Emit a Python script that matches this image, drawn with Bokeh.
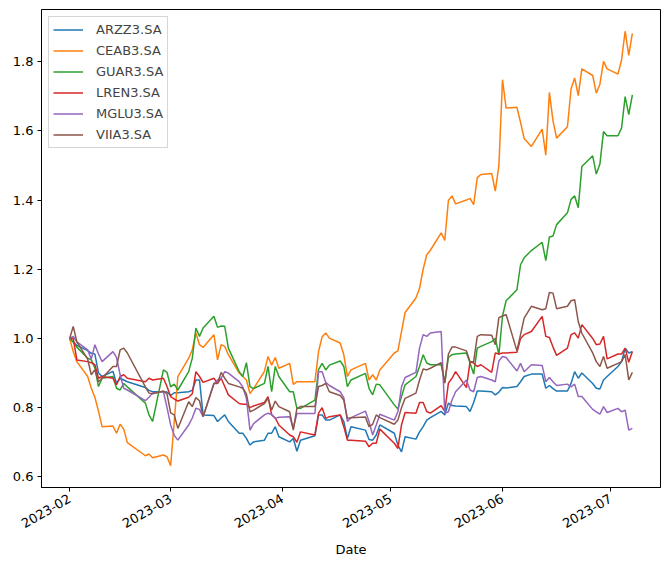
import math
import pandas as pd
from bokeh.plotting import figure
from bokeh.models import ColumnDataSource, FixedTicker, PrintfTickFormatter, DatetimeTickFormatter, Range1d
from bokeh.embed import file_html
from bokeh.resources import INLINE

# B3 trading days, 2023-02-01 .. 2023-07-07
holidays = ["2023-02-20", "2023-02-21", "2023-04-07", "2023-04-21", "2023-05-01", "2023-06-08"]
dates = pd.bdate_range("2023-02-01", "2023-07-07", freq="C", holidays=holidays)

tickers = ["ARZZ3.SA", "CEAB3.SA", "GUAR3.SA", "LREN3.SA", "MGLU3.SA", "VIIA3.SA"]
colors = ["#1f77b4", "#ff7f0e", "#2ca02c", "#d62728", "#9467bd", "#8c564b"]

arzz3 = [1.0, 0.99, 0.98, 0.965, 0.957, 0.955, 0.90, 0.89, 0.905, 0.87, 0.885, 0.88, 0.875, 0.858, 0.85, 0.846, 0.846, 0.845,
         0.835, 0.843, 0.843, 0.846, 0.85, 0.88, 0.88, 0.779, 0.777, 0.76, 0.77, 0.779, 0.76, 0.726, 0.726, 0.711, 0.692, 0.701, 0.706, 0.726, 0.726, 0.745, 0.716,
         0.701, 0.711, 0.674, 0.706, 0.719, 0.779, 0.779, 0.764, 0.764, 0.779, 0.76, 0.711, 0.745, 0.735, 0.708, 0.706, 0.721, 0.75,
         0.726, 0.692, 0.672, 0.716, 0.709, 0.73, 0.745, 0.764, 0.771, 0.789, 0.779, 0.813, 0.806, 0.805, 0.803, 0.789, 0.815, 0.848, 0.848, 0.846, 0.837, 0.845,
         0.858, 0.857, 0.861, 0.875, 0.89, 0.897, 0.897, 0.856, 0.864, 0.855, 0.848, 0.848, 0.87, 0.904, 0.885, 0.9, 0.87, 0.856, 0.854, 0.88, 0.89,
         0.919, 0.933, 0.972, 0.958, 0.962]

ceab3 = [1.0, 0.962, 0.933, 0.89, 0.856, 0.83, 0.79, 0.745, 0.747, 0.726, 0.752, 0.738, 0.699, 0.661, 0.666, 0.655, 0.663, 0.658,
         0.632, 0.76, 0.89, 0.943, 0.967, 1.016, 0.982, 0.974, 1.011, 0.938, 0.982, 0.977, 0.953, 0.9, 0.89, 0.88, 0.841, 0.855, 0.905, 0.948, 0.923, 0.945, 0.914,
         0.928, 0.867, 0.875, 0.875, 0.875, 0.962, 1.005, 1.016, 1.001, 0.987, 0.953, 0.89, 0.909, 0.928, 0.88, 0.895, 0.88, 0.909,
         0.958, 0.964, 1.02, 1.075, 1.117, 1.145, 1.20, 1.242, 1.255, 1.305, 1.283, 1.399, 1.412, 1.389, 1.40, 1.405, 1.387, 1.465, 1.474, 1.477, 1.426, 1.50,
         1.748, 1.666, 1.668, 1.625, 1.578, 1.555, 1.605, 1.53, 1.711, 1.629, 1.579, 1.612, 1.721, 1.753, 1.702, 1.779, 1.76, 1.709, 1.735, 1.801, 1.779,
         1.764, 1.805, 1.888, 1.818, 1.882]

guar3 = [1.0, 0.99, 0.975, 0.943, 0.938, 0.915, 0.861, 0.885, 0.89, 0.856, 0.851, 0.87, 0.86, 0.813, 0.779, 0.76, 0.909, 0.902,
         0.86, 0.868, 0.851, 0.904, 0.943, 1.03, 1.006, 1.03, 1.064, 1.032, 1.036, 1.035, 0.972, 0.904, 0.89, 0.93, 0.861, 0.855, 0.87, 0.919, 0.846, 0.919, 0.89,
         0.846, 0.846, 0.798, 0.798, 0.822, 0.91, 0.928, 0.909, 0.923, 0.935, 0.919, 0.861, 0.88, 0.899, 0.856, 0.837, 0.868, 0.866,
         0.808, 0.796, 0.832, 0.866, 0.89, 0.919, 0.953, 0.929, 0.924, 0.924, 0.873, 0.945, 0.953, 0.955, 0.958, 0.929, 0.897, 0.972, 0.977, 0.991, 1.0, 0.953,
         1.065, 1.109, 1.141, 1.213, 1.233, 1.254, 1.278, 1.225, 1.293, 1.296, 1.329, 1.363, 1.402, 1.412, 1.378, 1.497, 1.528, 1.475, 1.504, 1.598, 1.586,
         1.586, 1.608, 1.699, 1.647, 1.704]

lren3 = [1.0, 1.0, 0.938, 0.933, 0.93, 0.924, 0.885, 0.89, 0.885, 0.866, 0.89, 0.895, 0.885, 0.875, 0.885, 0.88, 0.885, 0.861,
         0.832, 0.825, 0.819, 0.83, 0.84, 0.904, 0.89, 0.873, 0.885, 0.87, 0.885, 0.861, 0.837, 0.812, 0.81, 0.81, 0.80, 0.805, 0.815, 0.832, 0.779, 0.77, 0.75,
         0.721, 0.716, 0.70, 0.73, 0.721, 0.784, 0.80, 0.769, 0.774, 0.779, 0.745, 0.706, 0.706, 0.703, 0.687, 0.697, 0.697, 0.738,
         0.697, 0.682, 0.75, 0.786, 0.784, 0.815, 0.815, 0.789, 0.784, 0.806, 0.789, 0.871, 0.885, 0.904, 0.858, 0.933, 0.929, 0.919, 0.924, 0.902, 0.958, 0.955,
         0.958, 0.958, 0.96, 1.0, 1.011, 1.02, 1.064, 1.006, 1.003, 0.975, 0.951, 0.972, 1.011, 1.016, 1.001, 1.04, 1.0, 0.982, 0.984, 1.006, 0.941,
         0.955, 0.955, 0.972, 0.931, 0.962]

mglu3 = [1.0, 1.006, 0.99, 0.967, 0.94, 0.982, 0.955, 0.933, 0.962, 0.945, 0.895, 0.856, 0.851, 0.82, 0.83, 0.842, 0.846, 0.80,
         0.75, 0.72, 0.706, 0.75, 0.77, 0.798, 0.795, 0.774, 0.87, 0.88, 0.885, 0.904, 0.9, 0.875, 0.86, 0.827, 0.735, 0.754, 0.779, 0.784, 0.78, 0.769, 0.772,
         0.774, 0.74, 0.783, 0.783, 0.783, 0.904, 0.904, 0.873, 0.864, 0.846, 0.829, 0.76, 0.771, 0.79, 0.76, 0.721, 0.75, 0.781,
         0.764, 0.788, 0.86, 0.887, 0.902, 0.972, 1.011, 1.006, 1.016, 1.02, 0.784, 0.788, 0.822, 0.846, 0.88, 0.851, 0.846, 0.887, 0.89, 0.88, 0.875, 0.935,
         0.948, 0.945, 0.906, 0.928, 0.904, 0.924, 0.922, 0.875, 0.887, 0.875, 0.864, 0.868, 0.86, 0.868, 0.832, 0.832, 0.795, 0.788, 0.781, 0.803, 0.786,
         0.798, 0.788, 0.793, 0.735, 0.74]

viia3 = [1.0, 1.035, 0.99, 0.94, 0.895, 0.91, 0.875, 0.885, 0.919, 0.919, 0.967, 0.972, 0.958, 0.86, 0.842, 0.84, 0.848, 0.84,
         0.785, 0.779, 0.74, 0.817, 0.803, 0.829, 0.82, 0.774, 0.87, 0.87, 0.902, 0.885, 0.87, 0.86, 0.856, 0.84, 0.788, 0.793, 0.812, 0.827, 0.793, 0.819, 0.803,
         0.788, 0.735, 0.798, 0.803, 0.803, 0.861, 0.864, 0.87, 0.846, 0.835, 0.822, 0.769, 0.771, 0.773, 0.745, 0.752, 0.779, 0.771,
         0.752, 0.764, 0.80, 0.827, 0.842, 0.88, 0.912, 0.909, 0.914, 0.93, 0.871, 0.955, 0.975, 0.975, 0.964, 0.933, 0.933, 1.006, 1.011, 1.009, 0.982, 1.06,
         1.065, 1.069, 0.964, 1.011, 1.059, 1.093, 1.083, 1.086, 1.133, 1.131, 1.086, 1.093, 1.109, 1.112, 1.049, 1.015, 0.958, 0.933, 0.919, 0.948, 0.914,
         0.928, 0.933, 0.953, 0.88, 0.902]

series = [arzz3, ceab3, guar3, lren3, mglu3, viia3]

month_ticks = ["2023-02-01", "2023-03-01", "2023-04-01", "2023-05-01", "2023-06-01", "2023-07-01"]
y_ticks = [0.6, 0.8, 1.0, 1.2, 1.4, 1.6, 1.8]

FONT = "DejaVu Sans"
FS = "13px"

t0 = dates[0].value / 1e6
t1 = dates[-1].value / 1e6
span = t1 - t0
allv = [v for s in series for v in s]
ymin, ymax = min(allv), max(allv)
yspan = ymax - ymin

p = figure(x_axis_type="datetime", output_backend="svg", toolbar_location=None,
           frame_width=619, frame_height=478,
           min_border_left=41, min_border_right=2, min_border_top=9, min_border_bottom=70,
           x_range=Range1d(t0 - 0.05 * span, t1 + 0.05 * span),
           y_range=Range1d(ymin - 0.05 * yspan, ymax + 0.05 * yspan),
           background_fill_color="white", border_fill_color="white")

for name, vals, c in zip(tickers, series, colors):
    n = min(len(dates), len(vals))
    src = ColumnDataSource(dict(x=dates[:n], y=vals[:n]))
    p.line(x="x", y="y", source=src, line_color=c, line_width=1.5, legend_label=name)

p.grid.visible = False
p.outline_line_color = "black"
p.outline_line_alpha = 1.0
p.outline_line_width = 1

p.xaxis.ticker = FixedTicker(ticks=[pd.Timestamp(d).value / 1e6 for d in month_ticks])
p.xaxis.formatter = DatetimeTickFormatter(days="%Y-%m", months="%Y-%m", years="%Y-%m")
p.xaxis.major_label_orientation = math.pi / 6
p.xaxis.axis_label = "Date"
p.yaxis.ticker = FixedTicker(ticks=y_ticks)
p.yaxis.formatter = PrintfTickFormatter(format="%.1f")

for ax in (p.xaxis, p.yaxis):
    ax.axis_line_color = "black"
    ax.major_tick_line_color = "black"
    ax.major_tick_out = 4
    ax.major_tick_in = 0
    ax.minor_tick_line_color = None
    ax.major_label_text_font = FONT
    ax.major_label_text_font_size = FS
    ax.major_label_text_color = "black"
    ax.major_label_standoff = 4
    ax.axis_label_text_font = FONT
    ax.axis_label_text_font_size = FS
    ax.axis_label_text_font_style = "normal"
    ax.axis_label_text_color = "black"
p.xaxis.major_label_standoff = 6
p.xaxis.axis_label_standoff = 7

lg = p.legend[0]
lg.location = "top_left"
lg.margin = 7
lg.padding = 4
lg.spacing = 4
lg.glyph_width = 30
lg.glyph_height = 17
lg.label_height = 17
lg.label_standoff = 13
lg.label_text_font = FONT
lg.label_text_font_size = FS
lg.border_line_color = "#cccccc"
lg.border_line_alpha = 0.8
lg.background_fill_alpha = 0.8

open("out.html", "w").write(file_html(p, INLINE))
